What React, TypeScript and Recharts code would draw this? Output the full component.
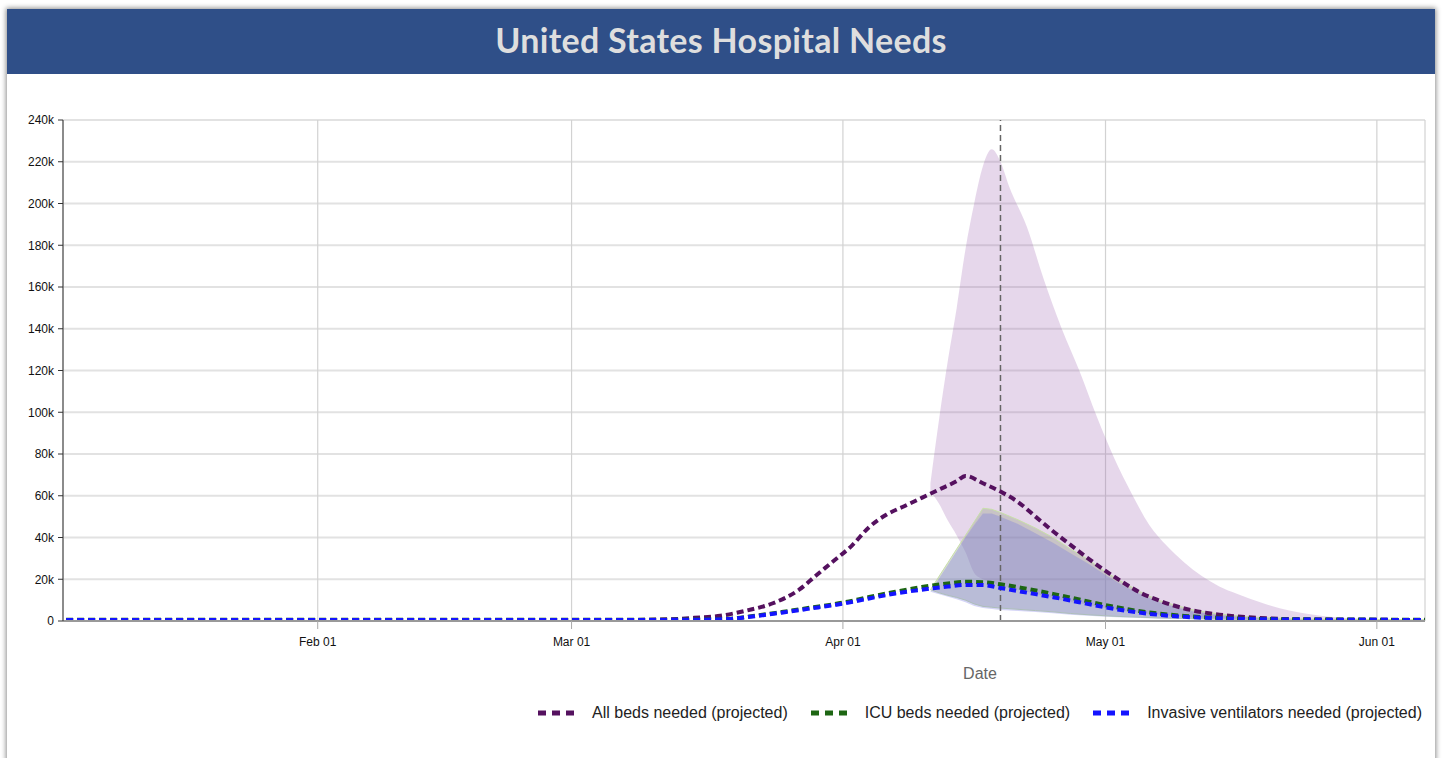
import React from "react";
import { ComposedChart, Line, Area, XAxis, YAxis, CartesianGrid, ReferenceLine } from "recharts";

const YEAR = 2020;
const dayOf = (md: string) => {
  const [m, d] = md.split("-").map(Number);
  return Math.round((Date.UTC(YEAR, m - 1, d) - Date.UTC(YEAR, 0, 1)) / 86400000);
};

const TITLE = "United States Hospital Needs";
const X_LABEL = "Date";

const xTickDates = ["02-01", "03-01", "04-01", "05-01", "06-01"];
const xTickLabels = ["Feb 01", "Mar 01", "Apr 01", "May 01", "Jun 01"];
const yTicks = [0, 20000, 40000, 60000, 80000, 100000, 120000, 140000, 160000, 180000, 200000, 220000, 240000];
const yTickLabels = ["0", "20k", "40k", "60k", "80k", "100k", "120k", "140k", "160k", "180k", "200k", "220k", "240k"];
const projectionDate = "04-19";

// All beds needed (projected) – mean
const allBedsDates = ["01-02", "02-10", "03-07", "03-12", "03-15", "03-18", "03-21", "03-24", "03-27", "03-29", "03-31", "04-02", "04-04", "04-06", "04-08", "04-10", "04-12", "04-14", "04-15", "04-17", "04-19", "04-21", "04-23", "04-25", "04-27", "04-29", "05-01", "05-03", "05-05", "05-07", "05-10", "05-13", "05-16", "05-20", "05-25", "06-07"];
const allBedsValues = [500, 500, 500, 800, 1500, 2500, 5000, 8500, 15000, 22000, 29000, 36000, 45000, 51000, 55000, 59000, 63000, 67000, 69500, 66000, 62000, 57000, 50000, 43000, 36500, 30000, 24000, 18500, 13500, 10000, 6000, 3600, 2200, 1200, 700, 500];

// ICU beds and ventilators – mean
const icuVentDates = ["01-02", "03-07", "03-15", "03-19", "03-22", "03-25", "03-28", "04-01", "04-04", "04-07", "04-10", "04-13", "04-15", "04-17", "04-19", "04-22", "04-25", "04-28", "05-01", "05-04", "05-07", "05-10", "05-14", "05-20", "06-07"];
const icuValues = [600, 600, 700, 1100, 2500, 4300, 6200, 8800, 11500, 14000, 16300, 18000, 18800, 18600, 17600, 15400, 13000, 10300, 7600, 5300, 3600, 2400, 1500, 900, 600];
const ventValues = [500, 500, 600, 1000, 2300, 4000, 5800, 8300, 10800, 13200, 15000, 16500, 17300, 17200, 15800, 13600, 11400, 9000, 6500, 4500, 3000, 2000, 1300, 800, 500];

// All beds uncertainty band
const allBandDates = ["04-11", "04-12", "04-13", "04-14", "04-15", "04-16", "04-17", "04-18", "04-19", "04-20", "04-22", "04-24", "04-26", "04-28", "04-30", "05-02", "05-04", "05-06", "05-08", "05-10", "05-12", "05-14", "05-16", "05-19", "05-22", "05-26", "05-30", "06-04", "06-07"];
const allBandUpper = [66000, 97000, 125000, 150000, 178000, 200000, 218000, 226000, 220000, 208000, 189000, 163000, 140000, 120000, 98000, 78000, 61000, 46000, 36000, 28000, 21500, 16500, 13000, 8500, 5000, 2300, 1200, 600, 500];
const allBandLower = [62000, 56000, 48000, 41000, 33000, 23000, 20000, 18500, 17000, 16000, 14000, 12000, 10000, 8500, 7000, 5500, 4300, 3300, 2600, 1900, 1500, 1200, 1000, 800, 600, 500, 400, 300, 300];

// ICU / ventilator uncertainty bands
const icuBandDates = ["04-11", "04-12", "04-13", "04-14", "04-15", "04-16", "04-17", "04-18", "04-19", "04-21", "04-23", "04-25", "04-27", "04-29", "05-01", "05-03", "05-05", "05-07", "05-09", "05-11", "05-14", "05-18", "05-23", "05-30", "06-07"];
const icuBandUpper = [15000, 21500, 28000, 34500, 41000, 47500, 54000, 53500, 52000, 48500, 44500, 40000, 34500, 29500, 23500, 18500, 14000, 10000, 7500, 5300, 3300, 1800, 1000, 600, 500];
const icuBandLower = [15000, 13500, 12300, 11300, 10000, 8200, 7000, 6600, 6200, 5600, 5000, 4400, 3600, 3000, 2500, 2100, 1800, 1500, 1300, 1100, 900, 700, 600, 500, 400];
const ventBandUpper = [14000, 20500, 27000, 33500, 40000, 46000, 51500, 51500, 50000, 46500, 42000, 37500, 32500, 27500, 22000, 17000, 12800, 9200, 6600, 4600, 2800, 1500, 800, 500, 400];
const ventBandLower = [14000, 12800, 11600, 10400, 9000, 7200, 6200, 5700, 5300, 4800, 4300, 3700, 3000, 2500, 2000, 1700, 1400, 1100, 900, 800, 600, 500, 400, 300, 300];

const legendItems = [
  { label: "All beds needed (projected)", color: "#55115f" },
  { label: "ICU beds needed (projected)", color: "#1d6613" },
  { label: "Invasive ventilators needed (projected)", color: "#1414ff" },
];

const lineData = (dates: string[], vals: number[]) => dates.map((d, i) => ({ day: dayOf(d), value: vals[i] }));
const bandData = (dates: string[], lo: number[], hi: number[]) => dates.map((d, i) => ({ day: dayOf(d), range: [lo[i], hi[i]] }));

const allBedsData = lineData(allBedsDates, allBedsValues);
const icuData = lineData(icuVentDates, icuValues);
const ventData = lineData(icuVentDates, ventValues);
const allBand = bandData(allBandDates, allBandLower, allBandUpper);
const icuBand = bandData(icuBandDates, icuBandLower, icuBandUpper);
const ventBand = bandData(icuBandDates, ventBandLower, ventBandUpper);

const xTicks = xTickDates.map(dayOf);
const FONT = "'Liberation Sans', Arial, sans-serif";

export default function App() {
  return (
    <div style={{ position: "absolute", left: 0, top: 0, width: 1443, height: 758, overflow: "hidden", background: "#ffffff", fontFamily: FONT }}>
      <div style={{ position: "absolute", left: 7, top: 9, width: 1428, height: 760, background: "#fff", boxShadow: "0 0 5px 1px rgba(0,0,0,0.45)" }} />
      <div style={{ position: "absolute", left: 7, top: 9, width: 1428, height: 65, background: "#2f4f88", display: "flex", alignItems: "center", justifyContent: "center" }}>
        <span style={{ fontFamily: "Lato, sans-serif", fontWeight: 700, fontSize: 34, color: "#dedede", letterSpacing: 0.3, marginTop: -4 }}>{TITLE}</span>
      </div>
      <div style={{ position: "absolute", left: 0, top: 0 }}>
        <ComposedChart width={1443} height={700} margin={{ top: 120, right: 18, left: 8, bottom: 19 }}>
          <CartesianGrid horizontal={true} vertical={false} stroke="#e2e2e2" strokeWidth={2} />
          <CartesianGrid horizontal={false} vertical={true} stroke="#d2d2d2" strokeWidth={1.2} />
          <XAxis
            dataKey="day"
            type="number"
            domain={[1.9, 157.5]}
            allowDataOverflow
            ticks={xTicks}
            tickFormatter={(v: number) => xTickLabels[xTicks.indexOf(v)]}
            height={60}
            tickSize={8}
            tickMargin={8}
            axisLine={{ stroke: "#999", strokeWidth: 2 }}
            tickLine={{ stroke: "#aaa" }}
            tick={{ fill: "#111", fontSize: 12, fontFamily: FONT }}
          />
          <YAxis
            type="number"
            domain={[0, 240000]}
            ticks={yTicks}
            tickFormatter={(v: number) => yTickLabels[yTicks.indexOf(v)]}
            width={55}
            tickSize={5}
            tickMargin={4}
            axisLine={{ stroke: "#333" }}
            tickLine={{ stroke: "#333" }}
            tick={{ fill: "#111", fontSize: 12, fontFamily: FONT }}
          />
          <Area data={allBand} dataKey="range" type="monotone" fill="#9d5fb0" fillOpacity={0.25} stroke="none" isAnimationActive={false} />
          <Area data={icuBand} dataKey="range" type="linear" fill="#909e82" fillOpacity={0.35} stroke="#c8e0a8" strokeWidth={1} isAnimationActive={false} />
          <Area data={ventBand} dataKey="range" type="linear" fill="#6f70e1" fillOpacity={0.3} stroke="none" isAnimationActive={false} />
          <ReferenceLine x={dayOf(projectionDate)} stroke="#666" strokeWidth={1.5} strokeDasharray="6 4" />
          <Line data={allBedsData} dataKey="value" type="monotone" stroke={legendItems[0].color} strokeWidth={4} strokeDasharray="7 4" dot={false} activeDot={false} isAnimationActive={false} />
          <Line data={icuData} dataKey="value" type="monotone" stroke={legendItems[1].color} strokeWidth={4} strokeDasharray="7 4" dot={false} activeDot={false} isAnimationActive={false} />
          <Line data={ventData} dataKey="value" type="monotone" stroke={legendItems[2].color} strokeWidth={4} strokeDasharray="7 4" dot={false} activeDot={false} isAnimationActive={false} />
        </ComposedChart>
      </div>
      <div style={{ position: "absolute", left: 880, width: 200, top: 664, textAlign: "center", fontSize: 16, color: "#666", fontFamily: FONT, lineHeight: "20px" }}>{X_LABEL}</div>
      <div style={{ position: "absolute", right: 21, top: 702, display: "flex", alignItems: "center", height: 22 }}>
        {legendItems.map((it, i) => (
          <div key={it.label} style={{ display: "flex", alignItems: "center", marginLeft: i === 0 ? 0 : 23 }}>
            <svg width={36} height={8} style={{ marginRight: 18 }}>
              <line x1={0} y1={4} x2={36} y2={4} stroke={it.color} strokeWidth={5} strokeDasharray="8 6" />
            </svg>
            <span style={{ fontSize: 16, color: "#222", fontFamily: FONT }}>{it.label}</span>
          </div>
        ))}
      </div>
    </div>
  );
}
